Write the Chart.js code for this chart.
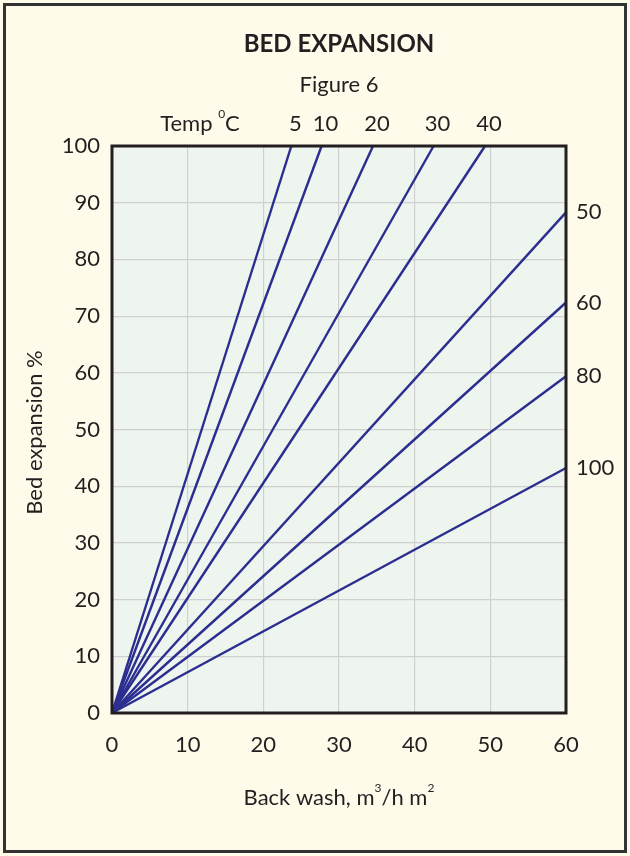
<!DOCTYPE html>
<html>
<head>
    <title>Bed Expansion</title>
    <style>
        /* page is exactly the picture size */
        html, body { margin: 0; padding: 0; background: #fffbea; }
        #wrap { position: relative; width: 630px; height: 856px; }
    </style>
    <script src="https://cdn.jsdelivr.net/npm/chart.js"></script>
</head>
<body>
    <div id="wrap">
        <canvas id="myChart" width="630" height="856"></canvas>
    </div>

    <script>
        // Temperatures (deg C) for each curve
        const temps = [5, 10, 20, 30, 40, 50, 60, 80, 100];
        // All lines start at the origin
        const startWash = 0;
        const startExpansion = 0;
        // Where each line leaves the plot (back wash m3/h m2, bed expansion %)
        const endWash = [23.7, 27.7, 34.5, 42.5, 49.3, 60, 60, 60, 60];
        const endExpansion = [100, 100, 100, 100, 100, 88.3, 72.4, 59.4, 43.2];

        const xTicks = [0, 10, 20, 30, 40, 50, 60];
        const yTicks = [0, 10, 20, 30, 40, 50, 60, 70, 80, 90, 100];

        const FONT = 'Lato, "Open Sans", sans-serif';
        const INK = '#231f20';
        const LINE = '#2b2e8f';

        const datasets = temps.map((t, i) => ({
            label: t + ' °C',
            data: [{ x: startWash, y: startExpansion }, { x: endWash[i], y: endExpansion[i] }],
            borderColor: LINE,
            borderWidth: 2.4,
            pointRadius: 0,
            fill: false,
            clip: false
        }));

        // draw a list of [text, superscript?] runs centred at cx
        function drawRuns(ctx, runs, cx, cy, size) {
            const big = size + 'px ' + FONT;
            const small = Math.round(size * 0.55) + 'px ' + FONT;
            let total = 0;
            runs.forEach(r => { ctx.font = r[1] ? small : big; total += ctx.measureText(r[0]).width; });
            let x = cx - total / 2;
            ctx.textAlign = 'left';
            ctx.textBaseline = 'middle';
            runs.forEach(r => {
                ctx.font = r[1] ? small : big;
                ctx.fillText(r[0], x, r[1] ? cy - size * 0.45 : cy);
                x += ctx.measureText(r[0]).width;
            });
        }

        const decor = {
            id: 'decor',
            beforeDraw(chart) {
                const ctx = chart.ctx;
                const a = chart.chartArea;
                ctx.save();
                ctx.fillStyle = '#fffbea';
                ctx.fillRect(0, 0, chart.width, chart.height);
                ctx.strokeStyle = '#333333';
                ctx.lineWidth = 3;
                ctx.strokeRect(4.5, 4.5, chart.width - 9, chart.height - 9);
                ctx.fillStyle = '#eef5ef';
                ctx.fillRect(a.left, a.top, a.right - a.left, a.bottom - a.top);
                ctx.restore();
            },
            afterDatasetsDraw(chart) {
                const ctx = chart.ctx;
                const a = chart.chartArea;
                const xs = chart.scales.x;
                const ys = chart.scales.y;
                const cx = (a.left + a.right) / 2;
                ctx.save();
                ctx.strokeStyle = INK;
                ctx.lineWidth = 3;
                ctx.strokeRect(a.left, a.top, a.right - a.left, a.bottom - a.top);

                ctx.fillStyle = INK;
                ctx.textAlign = 'center';
                ctx.textBaseline = 'middle';
                ctx.font = 'bold 24px ' + FONT;
                ctx.fillText('BED EXPANSION', cx, 44);
                ctx.font = '22px ' + FONT;
                ctx.fillText('Figure 6', cx, 85);

                // Temp label over the top
                drawRuns(ctx, [['Temp ', false], ['0', true], ['C', false]], 200, 124, 22);

                ctx.font = '22px ' + FONT;
                ctx.textAlign = 'center';
                temps.forEach((t, i) => {
                    if (endExpansion[i] >= 100) {
                        ctx.fillText(String(t), xs.getPixelForValue(endWash[i]) + 4, 124);
                    } else {
                        ctx.textAlign = 'left';
                        ctx.fillText(String(t), a.right + 10, ys.getPixelForValue(endExpansion[i]));
                        ctx.textAlign = 'center';
                    }
                });

                // axis titles
                drawRuns(ctx, [['Back wash, m', false], ['3', true], ['/h m', false], ['2', true]], cx, 798, 22);
                ctx.translate(35, (a.top + a.bottom) / 2 + 3);
                ctx.rotate(-Math.PI / 2);
                ctx.font = '22px ' + FONT;
                ctx.textAlign = 'center';
                ctx.fillText('Bed expansion %', 0, 0);
                ctx.restore();
            }
        };

        const ctx = document.getElementById('myChart').getContext('2d');
        let myChart = new Chart(ctx, {
            type: 'line',
            data: { datasets: datasets },
            plugins: [decor],
            options: {
                responsive: false,
                animation: false,
                devicePixelRatio: 1,
                layout: { padding: { left: 0, top: 146, right: 64, bottom: 0 } },
                plugins: { legend: { display: false }, tooltip: { enabled: false } },
                scales: {
                    x: {
                        type: 'linear',
                        min: xTicks[0],
                        max: xTicks[xTicks.length - 1],
                        afterBuildTicks: s => { s.ticks = xTicks.map(v => ({ value: v })); },
                        afterFit: s => { s.height = 143; },
                        grid: { color: '#cfd0cf', lineWidth: 1.2, drawTicks: false },
                        border: { display: false },
                        ticks: { color: INK, font: { family: FONT, size: 22 }, padding: 19, maxRotation: 0 }
                    },
                    y: {
                        type: 'linear',
                        min: yTicks[0],
                        max: yTicks[yTicks.length - 1],
                        afterBuildTicks: s => { s.ticks = yTicks.map(v => ({ value: v })); },
                        afterFit: s => { s.width = 112; },
                        grid: { color: '#cfd0cf', lineWidth: 1.2, drawTicks: false },
                        border: { display: false },
                        ticks: { color: INK, font: { family: FONT, size: 22 }, padding: 12 }
                    }
                }
            }
        });
    </script>
</body>
</html>
